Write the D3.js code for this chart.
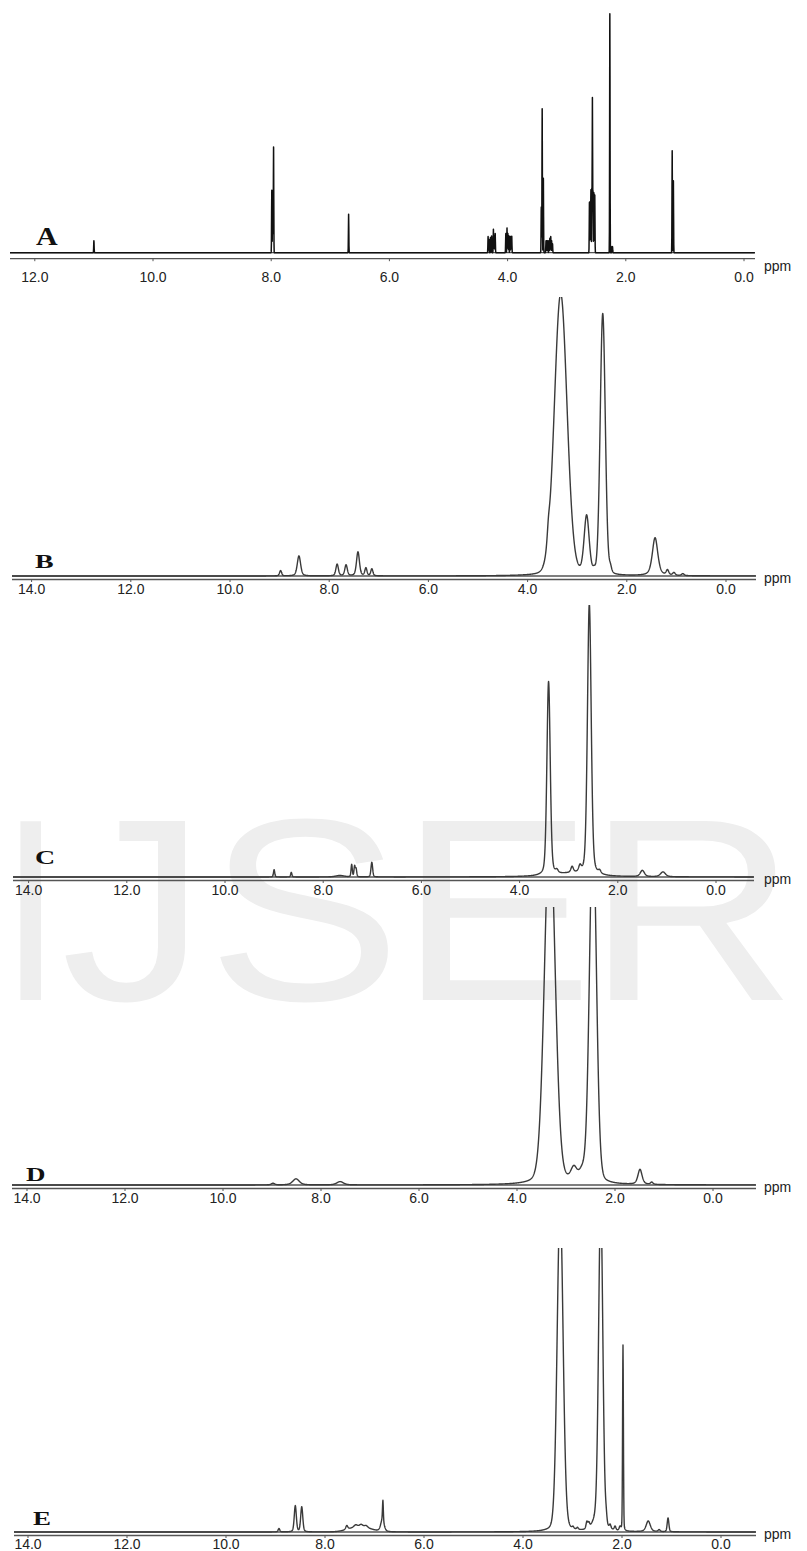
<!DOCTYPE html>
<html><head><meta charset="utf-8">
<script src="https://cdn.jsdelivr.net/npm/d3@7"></script>
<style>body{margin:0;background:#fff}svg{display:block}</style>
</head><body>
<svg id="chart" width="807" height="1551"></svg>
<script>
// ---------- DATA ----------
const panelIds = ["A", "B", "C", "D", "E"];
const ticksA = [12, 10, 8, 6, 4, 2, 0];
const ticksBE = [14, 12, 10, 8, 6, 4, 2, 0];
const axisUnit = "ppm";
const watermark = ["I", "J", "S", "E", "R"];

// peaks: [shift ppm, intensity (% of panel full scale), FWHM ppm, Lorentzian fraction]
const peaksA = [
  [11.00, 5, 0.008, 0],
  [7.99, 26, 0.008, 0], [7.975, 26, 0.008, 0], [7.96, 44, 0.008, 0],
  [6.69, 16, 0.008, 0],
  [4.33, 6.7, 0.008, 0], [4.315, 5.5, 0.008, 0], [4.29, 6.3, 0.008, 0], [4.27, 7, 0.008, 0],
  [4.24, 9.8, 0.008, 0], [4.225, 7, 0.008, 0], [4.21, 8, 0.008, 0],
  [4.03, 8, 0.008, 0], [4.01, 10.3, 0.008, 0], [3.995, 8, 0.008, 0], [3.98, 7, 0.008, 0],
  [3.96, 6.9, 0.008, 0], [3.945, 6.5, 0.008, 0], [3.93, 6.9, 0.008, 0],
  [3.43, 19, 0.008, 0], [3.415, 60, 0.008, 0], [3.395, 31, 0.008, 0],
  [3.35, 5, 0.008, 0], [3.335, 5, 0.008, 0], [3.32, 5, 0.008, 0], [3.30, 5, 0.008, 0],
  [3.285, 6, 0.008, 0], [3.27, 6.7, 0.008, 0], [3.255, 5, 0.008, 0], [3.24, 3.7, 0.008, 0],
  [2.615, 21, 0.008, 0], [2.60, 21, 0.008, 0], [2.59, 26, 0.008, 0], [2.575, 26, 0.008, 0],
  [2.565, 64, 0.008, 0], [2.555, 25, 0.008, 0], [2.54, 25, 0.008, 0], [2.525, 24, 0.008, 0],
  [2.27, 99.6, 0.008, 0], [2.235, 2.5, 0.008, 0], [2.225, 2.5, 0.008, 0],
  [1.215, 42.5, 0.008, 0], [1.195, 30, 0.008, 0]
];
const peaksB = [
  [8.98, 1.9, 0.05, 0.4], [8.61, 7.2, 0.08, 0.4], [7.84, 4.2, 0.06, 0.4], [7.66, 3.9, 0.06, 0.4],
  [7.42, 8.6, 0.07, 0.4], [7.26, 2.8, 0.05, 0.4], [7.14, 2.5, 0.05, 0.4],
  [3.58, 4.5, 0.06, 0.5], [3.333, 101, 0.30, 0.1], [2.81, 20.8, 0.12, 0.3], [2.66, 1.1, 0.05, 0.5],
  [2.485, 93.5, 0.12, 0.1], [2.33, 2.2, 0.06, 0.5], [1.43, 13.6, 0.13, 0.5],
  [1.18, 1.8, 0.06, 0.5], [1.05, 1.0, 0.06, 0.5], [0.87, 0.7, 0.06, 0.5]
];
const peaksC = [
  [9.00, 2.7, 0.03, 0.3], [8.65, 1.7, 0.03, 0.3], [7.66, 0.55, 0.2, 0.5], [7.42, 4.5, 0.03, 0.3],
  [7.36, 3.9, 0.03, 0.3], [7.33, 2.9, 0.03, 0.3], [7.01, 5.4, 0.04, 0.3],
  [3.41, 71.3, 0.08, 0.3], [3.24, 1.1, 0.06, 0.5], [2.95, 1.1, 0.8, 1], [2.93, 2.2, 0.06, 0.5],
  [2.77, 2.2, 0.06, 0.5], [2.58, 99.8, 0.09, 0.3], [2.37, 1.1, 0.06, 0.5],
  [1.50, 2.3, 0.1, 0.5], [1.08, 1.8, 0.12, 0.5]
];
const peaksD = [
  [8.98, 0.6, 0.08, 0.5], [8.51, 2.2, 0.16, 0.5], [7.61, 1.2, 0.16, 0.5],
  [3.33, 129.5, 0.255, 0.15], [2.84, 4.7, 0.15, 0.5], [2.67, 3.2, 0.15, 0.5],
  [2.45, 129.5, 0.165, 0.15], [1.49, 5.4, 0.1, 0.5], [1.25, 0.8, 0.06, 0.5]
];
const peaksE = [
  [8.93, 1.2, 0.04, 0.4], [8.60, 9.2, 0.05, 0.3], [8.47, 8.8, 0.05, 0.3], [7.56, 1.4, 0.05, 0.5],
  [7.30, 1.8, 0.5, 0], [7.38, 0.8, 0.08, 0.5], [7.27, 0.8, 0.08, 0.5], [7.17, 0.7, 0.08, 0.5],
  [6.83, 7, 0.02, 0.2], [6.84, 4.2, 0.08, 0.4],
  [3.25, 116, 0.14, 0.15], [2.99, 0.7, 0.04, 0.5], [2.90, 0.7, 0.04, 0.5], [2.71, 2.5, 0.04, 0.4],
  [2.67, 1.8, 0.04, 0.4], [2.55, 2.8, 0.15, 0.5], [2.43, 116, 0.1, 0.15], [2.32, 2.5, 0.04, 0.4],
  [2.24, 1.4, 0.04, 0.4], [2.14, 1.4, 0.04, 0.4], [2.04, 1.4, 0.04, 0.4], [1.98, 65.5, 0.02, 0.2],
  [1.47, 3.8, 0.1, 0.5], [1.25, 0.7, 0.05, 0.5], [1.07, 4.9, 0.04, 0.3]
];
const peakSets = [peaksA, peaksB, peaksC, peaksD, peaksE];
const tickSets = [ticksA, ticksBE, ticksBE, ticksBE, ticksBE];

// ---------- LAYOUT (pixels) ----------
const layout = [
  {x0: 744, ppx: 59.1, base: 252.7, top: 12.7, gap: 6,   xl: 10, xr: 755, labY: 282,   ppmY: 271, lx: 36, ly: 245,  fs: 25, sx: 1.2, stroke: "#111", sw: 1.5},
  {x0: 726, ppx: 49.6, base: 576,   top: 297,  gap: 3.5, xl: 12, xr: 756, labY: 593.5, ppmY: 583, lx: 35, ly: 568,  fs: 18, sx: 1.55, stroke: "#3a3a3a", sw: 1.4},
  {x0: 716, ppx: 49.1, base: 877,   top: 605,  gap: 3.5, xl: 13, xr: 754, labY: 894.5, ppmY: 884, lx: 35, ly: 864,  fs: 18, sx: 1.55, stroke: "#3a3a3a", sw: 1.4},
  {x0: 713, ppx: 49.0, base: 1185,  top: 907,  gap: 3.5, xl: 12, xr: 756, labY: 1202.5, ppmY: 1192, lx: 26, ly: 1181, fs: 18, sx: 1.5, stroke: "#3a3a3a", sw: 1.4},
  {x0: 721, ppx: 49.5, base: 1532,  top: 1248, gap: 3.5, xl: 14, xr: 756, labY: 1549, ppmY: 1539, lx: 33, ly: 1525, fs: 18, sx: 1.5, stroke: "#3a3a3a", sw: 1.4}
];

// ---------- DRAW ----------
const svg = d3.select("#chart");
svg.append("rect").attr("width", 807).attr("height", 1551).attr("fill", "#fff");

// watermark (behind the spectra)
const wmX = [0, 61, 207, 399, 586.4];
const wmSX = [0.85, 1.12, 1.12, 1.12, 1.12];
const wm = svg.append("g").attr("fill", "#eeeeee")
  .style("font-family", "'Liberation Sans', Arial, sans-serif").style("font-size", "260px");
watermark.forEach((ch, i) => {
  wm.append("text").attr("transform", `translate(${wmX[i]},1000) scale(${wmSX[i]},1)`).text(ch);
});

function pv(x, c, h, w, eta) {
  const d = (x - c) / (w / 2);
  return h * (eta / (1 + d * d) + (1 - eta) * Math.exp(-Math.LN2 * d * d));
}

const defs = svg.append("defs");
panelIds.forEach((id, i) => {
  const L = layout[i], peaks = peakSets[i], ticks = tickSets[i];
  const x = d3.scaleLinear().domain([0, 14]).range([L.x0, L.x0 - 14 * L.ppx]);
  const y = d3.scaleLinear().domain([0, 100]).range([L.base, L.top]);
  const g = svg.append("g");

  // axis double line
  const lo = x.invert(L.xl), hi = x.invert(L.xr);
  [0, L.gap].forEach(off => {
    g.append("line").attr("x1", x(lo)).attr("x2", x(hi))
      .attr("y1", y(0) + off).attr("y2", y(0) + off)
      .attr("stroke", "#555").attr("stroke-width", 1.3);
  });
  // ticks & labels
  g.selectAll(".tk").data(ticks).join("line")
    .attr("x1", d => x(d)).attr("x2", d => x(d))
    .attr("y1", y(0) + L.gap).attr("y2", y(0) + L.gap + 2.5)
    .attr("stroke", "#555").attr("stroke-width", 1);
  g.selectAll(".tl").data(ticks).join("text")
    .attr("x", d => x(d)).attr("y", L.labY)
    .attr("text-anchor", "middle")
    .style("font-family", "'Liberation Sans', Arial, sans-serif").style("font-size", "14px")
    .attr("fill", "#222").text(d => d.toFixed(1));
  g.append("text").attr("x", 764).attr("y", L.ppmY)
    .style("font-family", "'Liberation Sans', Arial, sans-serif").style("font-size", "14px")
    .attr("fill", "#222").text(axisUnit);

  // spectrum
  const pts = [];
  for (let px = L.xl; px <= L.xr; px += 0.2) pts.push(x.invert(px));
  peaks.forEach(p => pts.push(p[0]));
  pts.sort((a, b) => b - a);
  const data = pts.map(s => [s, d3.sum(peaks, p => pv(s, p[0], p[1], p[2], p[3]))]);
  const clipId = "clip" + id;
  defs.append("clipPath").attr("id", clipId).append("rect")
    .attr("x", 0).attr("y", y(100)).attr("width", 807).attr("height", y(0) - y(100) + 10);
  g.append("path").datum(data)
    .attr("clip-path", `url(#${clipId})`)
    .attr("fill", "none").attr("stroke", L.stroke).attr("stroke-width", L.sw)
    .attr("stroke-linejoin", "round")
    .attr("d", d3.line().x(d => x(d[0])).y(d => y(d[1])));

  // panel letter
  g.append("text").attr("transform", `translate(${L.lx},${L.ly}) scale(${L.sx},1)`)
    .style("font-family", "'Liberation Serif', 'Times New Roman', serif")
    .style("font-weight", "bold").style("font-size", L.fs + "px")
    .attr("fill", "#111").text(id);
});
</script>
</body></html>
